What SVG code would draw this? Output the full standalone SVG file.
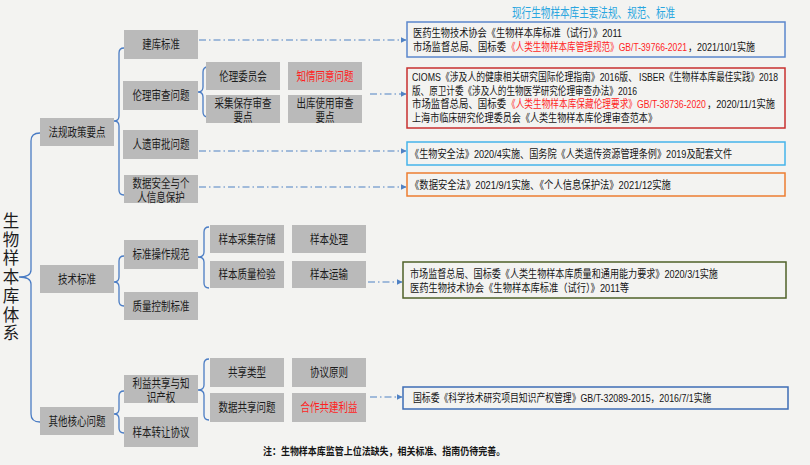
<svg xmlns="http://www.w3.org/2000/svg" width="810" height="465" viewBox="0 0 810 465">
<style>
text{font-family:"Liberation Sans","Noto Sans CJK SC",sans-serif;}
.nb{fill:#bababa;}
.nt{font-size:12.5px;fill:#1c1c1c;text-anchor:middle;}
.br{fill:none;stroke:#4a7cc4;stroke-width:1.3;}
.dl{fill:none;stroke:#4f81c4;stroke-width:1.2;stroke-dasharray:7 3 1.5 3;}
.rb{fill:none;stroke-width:1.5;}
.rt{font-size:11px;fill:#151515;}
.red{fill:#ff1f1f;}
</style>
<defs>
<marker id="ar" viewBox="0 0 6 6" refX="5.5" refY="3" markerWidth="6" markerHeight="6" orient="auto" markerUnits="userSpaceOnUse">
<path d="M0,0 L6,3 L0,6 z" fill="#4f81c4"/>
</marker>
</defs>
<rect width="810" height="465" fill="#f3f3f1"/>

<text transform="translate(512,17) scale(0.738,1)" font-size="13" fill="#2aa6e0" textLength="221" lengthAdjust="spacingAndGlyphs">现行生物样本库主要法规、规范、标准</text>

<g id="root">
<text font-size="16.5" fill="#1c1c1c" text-anchor="middle"><tspan x="11" y="227">生</tspan><tspan x="11" y="246">物</tspan><tspan x="11" y="264">样</tspan><tspan x="11" y="283">本</tspan><tspan x="11" y="302">库</tspan><tspan x="11" y="321">体</tspan><tspan x="11" y="339">系</tspan></text>
</g>

<g id="connectors">
<path class="br" d="M40,133 Q31,133 31,141 V270 Q31,277 19,277 Q31,277 31,284 V414 Q31,422 40,422"/>
<path class="br" d="M124,48 Q119,48 119,53 V116 Q119,121 114,121 Q119,121 119,126 V190 Q119,195 124,195"/>
<path class="br" d="M208,67 Q203,67 203,72 V87 Q203,92 198,92 Q203,92 203,97 V112 Q203,117 208,117"/>
<path class="br" d="M124,256 Q119,256 119,261 V277 Q119,282 114,282 Q119,282 119,287 V301 Q119,306 124,306"/>
<path class="br" d="M209,227 Q204,227 204,232 V252 Q204,257 198,257 Q204,257 204,262 V283 Q204,288 209,288"/>
<path class="br" d="M124,391 Q119,391 119,396 V409 Q119,414 114,414 Q119,414 119,419 V428 Q119,433 124,433"/>
<path class="br" d="M209,359 Q204,359 204,364 V385 Q204,390 198,390 Q204,390 204,395 V415 Q204,420 209,420"/>
<path class="dl" d="M199,40 H406" marker-end="url(#ar)"/>
<path class="dl" d="M370,94 H406" marker-end="url(#ar)"/>
<path class="dl" d="M199,151 H406" marker-end="url(#ar)"/>
<path class="dl" d="M199,187 H406" marker-end="url(#ar)"/>
<path class="dl" d="M368,282 H402" marker-end="url(#ar)"/>
<path class="dl" d="M370,397 H402" marker-end="url(#ar)"/>
</g>

<g id="n-fagui"><rect class="nb" x="40" y="118" width="74" height="28"/><text class="nt" transform="translate(77,136.5) scale(0.76,1)" textLength="75" lengthAdjust="spacingAndGlyphs">法规政策要点</text></g>
<g id="n-jianku"><rect class="nb" x="124" y="30" width="74" height="29"/><text class="nt" transform="translate(161,49) scale(0.75,1)" textLength="50" lengthAdjust="spacingAndGlyphs">建库标准</text></g>
<g id="n-lunli"><rect class="nb" x="123" y="81" width="75" height="29"/><text class="nt" transform="translate(161,100) scale(0.76,1)" textLength="75" lengthAdjust="spacingAndGlyphs">伦理审查问题</text></g>
<g id="n-weiyuanhui"><rect class="nb" x="206" y="62" width="74" height="28"/><text class="nt" transform="translate(243,80.5) scale(0.76,1)" textLength="62.5" lengthAdjust="spacingAndGlyphs">伦理委员会</text></g>
<g id="n-zhiqing"><rect class="nb" x="288" y="62" width="74" height="28"/><text class="nt red" transform="translate(325,80.5) scale(0.76,1)" textLength="75" lengthAdjust="spacingAndGlyphs">知情同意问题</text></g>
<g id="n-caiji"><rect class="nb" x="206" y="95" width="74" height="28"/><text class="nt" transform="translate(243,107.5) scale(0.76,1)" textLength="75" lengthAdjust="spacingAndGlyphs">采集保存审查</text><text class="nt" transform="translate(243,121.5) scale(0.76,1)" textLength="25" lengthAdjust="spacingAndGlyphs">要点</text></g>
<g id="n-chuku"><rect class="nb" x="288" y="95" width="74" height="28"/><text class="nt" transform="translate(325,107.5) scale(0.76,1)" textLength="75" lengthAdjust="spacingAndGlyphs">出库使用审查</text><text class="nt" transform="translate(325,121.5) scale(0.76,1)" textLength="25" lengthAdjust="spacingAndGlyphs">要点</text></g>
<g id="n-renyi"><rect class="nb" x="123" y="130" width="75" height="29"/><text class="nt" transform="translate(161,149) scale(0.76,1)" textLength="75" lengthAdjust="spacingAndGlyphs">人遗审批问题</text></g>
<g id="n-shuju"><rect class="nb" x="124" y="175" width="74" height="28"/><text class="nt" transform="translate(161,187.5) scale(0.76,1)" textLength="75" lengthAdjust="spacingAndGlyphs">数据安全与个</text><text class="nt" transform="translate(161,201.5) scale(0.76,1)" textLength="62.5" lengthAdjust="spacingAndGlyphs">人信息保护</text></g>

<g id="n-jishu"><rect class="nb" x="40" y="265" width="74" height="28"/><text class="nt" transform="translate(77,283.5) scale(0.76,1)" textLength="50" lengthAdjust="spacingAndGlyphs">技术标准</text></g>
<g id="n-caozuo"><rect class="nb" x="124" y="240" width="74" height="29"/><text class="nt" transform="translate(161,259) scale(0.76,1)" textLength="75" lengthAdjust="spacingAndGlyphs">标准操作规范</text></g>
<g id="n-zhiliang"><rect class="nb" x="124" y="292" width="74" height="28"/><text class="nt" transform="translate(161,310.5) scale(0.76,1)" textLength="75" lengthAdjust="spacingAndGlyphs">质量控制标准</text></g>
<g id="n-cunchu"><rect class="nb" x="210" y="225" width="74" height="28"/><text class="nt" transform="translate(247,243.5) scale(0.76,1)" textLength="75" lengthAdjust="spacingAndGlyphs">样本采集存储</text></g>
<g id="n-chuli"><rect class="nb" x="292" y="225" width="74" height="28"/><text class="nt" transform="translate(329,243.5) scale(0.76,1)" textLength="50" lengthAdjust="spacingAndGlyphs">样本处理</text></g>
<g id="n-jianyan"><rect class="nb" x="210" y="261" width="74" height="27"/><text class="nt" transform="translate(247,279) scale(0.76,1)" textLength="75" lengthAdjust="spacingAndGlyphs">样本质量检验</text></g>
<g id="n-yunshu"><rect class="nb" x="292" y="261" width="74" height="27"/><text class="nt" transform="translate(329,279) scale(0.76,1)" textLength="50" lengthAdjust="spacingAndGlyphs">样本运输</text></g>

<g id="n-qita"><rect class="nb" x="40" y="407" width="74" height="28"/><text class="nt" transform="translate(77,425.5) scale(0.76,1)" textLength="75" lengthAdjust="spacingAndGlyphs">其他核心问题</text></g>
<g id="n-liyi"><rect class="nb" x="124" y="375" width="74" height="28"/><text class="nt" transform="translate(161,387.5) scale(0.76,1)" textLength="75" lengthAdjust="spacingAndGlyphs">利益共享与知</text><text class="nt" transform="translate(161,401.5) scale(0.76,1)" textLength="37.5" lengthAdjust="spacingAndGlyphs">识产权</text></g>
<g id="n-zhuanrang"><rect class="nb" x="124" y="417" width="74" height="30"/><text class="nt" transform="translate(161,436.5) scale(0.76,1)" textLength="75" lengthAdjust="spacingAndGlyphs">样本转让协议</text></g>
<g id="n-leixing"><rect class="nb" x="210" y="358" width="74" height="29"/><text class="nt" transform="translate(247,377) scale(0.76,1)" textLength="50" lengthAdjust="spacingAndGlyphs">共享类型</text></g>
<g id="n-yuanze"><rect class="nb" x="292" y="358" width="74" height="29"/><text class="nt" transform="translate(329,377) scale(0.76,1)" textLength="50" lengthAdjust="spacingAndGlyphs">协议原则</text></g>
<g id="n-gongxiang"><rect class="nb" x="210" y="393" width="74" height="29"/><text class="nt" transform="translate(247,412) scale(0.76,1)" textLength="75" lengthAdjust="spacingAndGlyphs">数据共享问题</text></g>
<g id="n-hezuo"><rect class="nb" x="292" y="393" width="74" height="29"/><text class="nt red" transform="translate(329,412) scale(0.76,1)" textLength="75" lengthAdjust="spacingAndGlyphs">合作共建利益</text></g>

<g id="r-jianku">
<rect class="rb" x="407" y="22" width="378" height="35" stroke="#5b87cc"/>
<text class="rt" transform="translate(413,37) scale(0.818,1)" textLength="255.5" lengthAdjust="spacingAndGlyphs">医药生物技术协会《生物样本库标准（试行）》2011</text>
<text class="rt" transform="translate(413,51) scale(0.845,1)" textLength="110" lengthAdjust="spacingAndGlyphs">市场监督总局、国标委</text>
<text class="rt red" transform="translate(507,51) scale(0.779,1)" textLength="231" lengthAdjust="spacingAndGlyphs">《人类生物样本库管理规范》GB/T-39766-2021</text>
<text class="rt" transform="translate(688,51) scale(0.818,1)" textLength="81.9" lengthAdjust="spacingAndGlyphs">，2021/10/1实施</text>
</g>
<g id="r-lunli">
<rect class="rb" x="407" y="68" width="378" height="60" stroke="#c8302f"/>
<text class="rt" transform="translate(412,81) scale(0.802,1)" textLength="280.5" lengthAdjust="spacingAndGlyphs">CIOMS《涉及人的健康相关研究国际伦理指南》2016版、</text>
<text class="rt" transform="translate(639,81) scale(0.734,1)" textLength="189.5" lengthAdjust="spacingAndGlyphs">ISBER《生物样本库最佳实践》2018</text>
<text class="rt" transform="translate(412,94.5) scale(0.78,1)" textLength="288.5" lengthAdjust="spacingAndGlyphs">版、原卫计委《涉及人的生物医学研究伦理审查办法》2016</text>
<text class="rt" transform="translate(412,108) scale(0.855,1)" textLength="110" lengthAdjust="spacingAndGlyphs">市场监督总局、国标委</text>
<text class="rt red" transform="translate(507,108) scale(0.786,1)" textLength="253" lengthAdjust="spacingAndGlyphs">《人类生物样本库保藏伦理要求》GB/T-38736-2020</text>
<text class="rt" transform="translate(707,108) scale(0.83,1)" textLength="81.9" lengthAdjust="spacingAndGlyphs">，2020/11/1实施</text>
<text class="rt" transform="translate(412,121.5) scale(0.825,1)" textLength="297" lengthAdjust="spacingAndGlyphs">上海市临床研究伦理委员会《人类生物样本库伦理审查范本》</text>
</g>
<g id="r-renyi">
<rect class="rb" x="407" y="142" width="378" height="23" stroke="#45b4ea"/>
<text class="rt" transform="translate(410,158) scale(0.83,1)" textLength="388" lengthAdjust="spacingAndGlyphs">《生物安全法》2020/4实施、国务院《人类遗传资源管理条例》2019及配套文件</text>
</g>
<g id="r-shuju">
<rect class="rb" x="407" y="173" width="378" height="23" stroke="#ed7d31"/>
<text class="rt" transform="translate(410,189) scale(0.832,1)" textLength="313.6" lengthAdjust="spacingAndGlyphs">《数据安全法》2021/9/1实施、《个人信息保护法》2021/12实施</text>
</g>
<g id="r-jishu">
<rect class="rb" x="403" y="262" width="383" height="36" stroke="#4f6228"/>
<text class="rt" transform="translate(410,278) scale(0.826,1)" textLength="372.8" lengthAdjust="spacingAndGlyphs">市场监督总局、国标委《人类生物样本库质量和通用能力要求》2020/3/1实施</text>
<text class="rt" transform="translate(410,291.5) scale(0.822,1)" textLength="266.5" lengthAdjust="spacingAndGlyphs">医药生物技术协会《生物样本库标准（试行）》2011等</text>
</g>
<g id="r-qita">
<rect class="rb" x="403" y="387" width="385" height="22" stroke="#3e6db5"/>
<text class="rt" transform="translate(413,402) scale(0.80,1)" textLength="372.9" lengthAdjust="spacingAndGlyphs">国标委《科学技术研究项目知识产权管理》GB/T-32089-2015，2016/7/1实施</text>
</g>

<text transform="translate(263,455) scale(0.854,1)" font-size="10.5" fill="#151515" font-weight="bold" textLength="283.5" lengthAdjust="spacingAndGlyphs">注：生物样本库监管上位法缺失，相关标准、指南仍待完善。</text>
</svg>
